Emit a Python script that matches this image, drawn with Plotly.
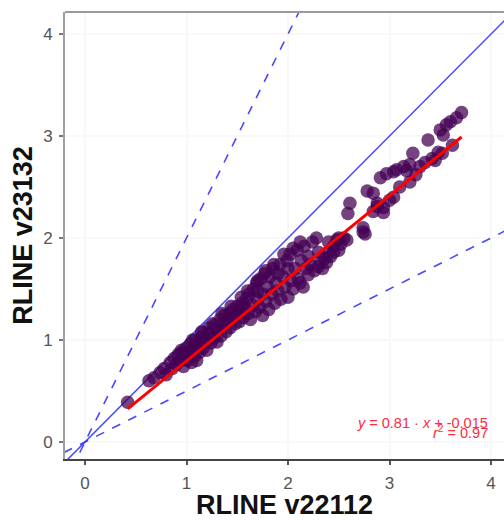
import plotly.graph_objects as go

# RLINE v22112 (x) vs RLINE v23132 (y) receptor concentrations
x_v22112 = [
    0.42, 0.63, 0.68, 0.74, 0.78, 0.80,
    0.84, 0.86, 0.88, 0.90, 0.92, 0.94, 0.96, 0.97, 0.98, 1.00, 1.01, 1.03, 1.04, 1.05,
    1.07, 1.08, 1.09, 1.10, 1.12, 1.13, 1.14, 1.16, 1.17, 1.18, 1.20, 1.21, 1.22, 1.24,
    1.25, 1.27, 1.28, 1.30, 1.31, 1.33, 1.34, 1.36, 1.37, 1.39, 1.40, 1.42, 1.43, 1.45,
    1.46, 1.48, 1.50, 1.50, 1.52, 1.53, 1.55, 1.56, 1.58, 1.59, 1.61, 1.62, 1.63, 1.65,
    1.66, 1.68, 1.69, 1.70, 1.72, 1.73, 1.75, 1.75, 1.77, 1.78, 1.80, 1.81, 1.82, 1.84,
    1.85, 1.87, 1.88, 1.90, 1.92, 1.93, 1.95, 1.97, 1.99, 2.00, 2.02, 2.03, 2.05, 2.07,
    2.09, 2.10, 2.12, 2.13, 2.15, 2.16, 2.18, 2.20, 2.22, 2.24, 2.26, 2.28, 2.30, 2.32,
    2.34, 2.36, 2.38, 2.40, 2.42, 2.45, 2.48, 2.50, 2.52, 2.55, 2.58, 2.59, 2.61, 2.74,
    2.76, 2.74, 2.78, 2.84, 2.84, 2.88, 2.88, 2.91, 2.94, 2.94, 2.97, 3.00, 3.04, 3.04,
    3.07, 3.10, 3.14, 3.17, 3.20, 3.20, 3.23, 3.26, 3.30, 3.35, 3.38, 3.42, 3.45, 3.48,
    3.50, 3.52, 3.53, 3.56, 3.60, 3.62, 3.66, 3.71,
    0.95, 1.06, 1.15, 1.26, 1.35, 1.44, 1.54, 1.60, 1.70, 1.78, 1.86, 1.96, 2.05, 2.12,
    1.10, 1.30, 1.55, 1.70, 1.90, 2.00, 2.20, 2.30, 2.45, 2.50, 2.40,
]
y_v23132 = [
    0.39, 0.60, 0.63, 0.68, 0.72, 0.66,
    0.78, 0.72, 0.82, 0.76, 0.86, 0.80, 0.88, 0.74, 0.83, 0.92, 0.80, 0.88, 0.96, 0.78,
    0.92, 0.84, 1.00, 0.80, 0.95, 0.88, 1.03, 0.92, 1.07, 0.98, 0.90, 1.04, 1.12, 0.97,
    1.08, 1.02, 1.15, 0.98, 1.10, 1.20, 1.04, 1.14, 1.24, 1.08, 1.18, 1.26, 1.12, 1.21,
    1.30, 1.16, 1.25, 1.33, 1.18, 1.28, 1.36, 1.22, 1.31, 1.40, 1.26, 1.45, 1.20, 1.34,
    1.50, 1.28, 1.56, 1.40, 1.32, 1.60, 1.45, 1.24, 1.65, 1.38, 1.52, 1.30, 1.62, 1.45,
    1.70, 1.36, 1.56, 1.48, 1.74, 1.40, 1.62, 1.52, 1.78, 1.42, 1.84, 1.58, 1.50, 1.70,
    1.88, 1.60, 1.56, 1.78, 1.52, 1.92, 1.70, 1.82, 1.74, 1.96, 1.68, 2.00, 1.86, 1.76,
    1.70, 1.80, 1.76, 1.86, 1.82, 1.92, 1.98, 1.88, 1.94, 2.00, 1.98, 2.24, 2.34, 2.10,
    2.04, 2.06, 2.46, 2.44, 2.26, 2.34, 2.31, 2.59, 2.30, 2.25, 2.63, 2.37, 2.65, 2.40,
    2.67, 2.50, 2.70, 2.66, 2.72, 2.55, 2.83, 2.62, 2.70, 2.74, 2.96, 2.78, 2.76, 2.84,
    3.06, 2.83, 3.01, 3.11, 3.14, 2.91, 3.18, 3.23,
    0.90, 1.00, 1.08, 1.16, 1.26, 1.33, 1.42, 1.48, 1.58, 1.68, 1.74, 1.84, 1.90, 1.96,
    0.93, 1.12, 1.32, 1.48, 1.65, 1.70, 1.64, 1.72, 1.86, 2.00, 1.96,
]

# Linear fit reported in the equation label
fit_slope = 0.81
fit_intercept = -0.015
fit_r2 = 0.97

# Reference lines through the origin: 1:1 (solid), 2:1 and 1:2 (dashed)
ref_slopes = [1.0, 2.0, 0.5]
ref_dashes = ["solid", "dash", "dash"]
ref_span = [-1.0, 6.0]

tick_vals = [0, 1, 2, 3, 4]
tick_text = ["0", "1", "2", "3", "4"]

fig = go.Figure()

for slope, dash in zip(ref_slopes, ref_dashes):
    fig.add_trace(go.Scatter(
        x=ref_span, y=[slope * v for v in ref_span], mode="lines",
        line=dict(color="rgba(40,40,255,0.85)", width=1.5 if dash == "solid" else 1.6, dash=dash),
        hoverinfo="skip", showlegend=False,
    ))

fig.add_trace(go.Scatter(
    x=x_v22112, y=y_v23132, mode="markers",
    marker=dict(size=13.5, color="rgba(68,1,84,0.74)", line=dict(width=0)),
    showlegend=False,
))

fit_x = [min(x_v22112), max(x_v22112)]
fig.add_trace(go.Scatter(
    x=fit_x, y=[fit_slope * v + fit_intercept for v in fit_x], mode="lines",
    line=dict(color="#ff0000", width=3), hoverinfo="skip", showlegend=False,
))

label_font = dict(family="Liberation Sans, Arial, sans-serif", size=14.5, color="#ff2a40")
fig.add_annotation(
    x=3.99, y=0.19, xref="x", yref="y", xanchor="right", yanchor="middle", showarrow=False,
    text=f"<i>y</i> = {fit_slope:.2f} · <i>x</i> + {fit_intercept:.3f}", font=label_font,
)
fig.add_annotation(
    x=3.99, y=0.095, xref="x", yref="y", xanchor="right", yanchor="middle", showarrow=False,
    text=f"<i>r</i><sup>2</sup> = {fit_r2:.2f}", font=label_font,
)

# top border of the panel
fig.add_shape(type="line", xref="paper", yref="paper", x0=0, x1=1, y0=1, y1=1,
              line=dict(color="#9a9a9a", width=2))

axis_font = dict(family="Liberation Sans, Arial, sans-serif", size=17, color="#555555")
title_font = dict(family="Liberation Sans, Arial, sans-serif", size=27, color="#111111")

fig.update_xaxes(
    range=[-0.197, 4.128], tickvals=tick_vals, ticktext=tick_text, tickfont=axis_font,
    ticks="outside", ticklen=4, tickwidth=1.5, tickcolor="#555555", ticklabelstandoff=4,
    showline=True, linecolor="#444444", linewidth=2,
    showgrid=True, gridcolor="#f8f8f8", gridwidth=1.5, zeroline=False,
    title=dict(text="<b>RLINE v22112</b>", font=title_font, standoff=1),
)
fig.update_yaxes(
    range=[-0.167, 4.216], tickvals=tick_vals, ticktext=tick_text, tickfont=axis_font,
    ticks="outside", ticklen=4, tickwidth=1.5, tickcolor="#777777", ticklabelstandoff=3,
    showline=True, linecolor="#a0a0a0", linewidth=2,
    showgrid=True, gridcolor="#f8f8f8", gridwidth=1.5, zeroline=False,
    title=dict(text="<b>RLINE v23132</b>", font=title_font, standoff=3),
)

fig.update_layout(
    width=504, height=520,
    margin=dict(l=65, r=0, t=12, b=61),
    plot_bgcolor="white", paper_bgcolor="white",
    font=dict(family="Liberation Sans, Arial, sans-serif"),
)

fig.write_html("out.html")
